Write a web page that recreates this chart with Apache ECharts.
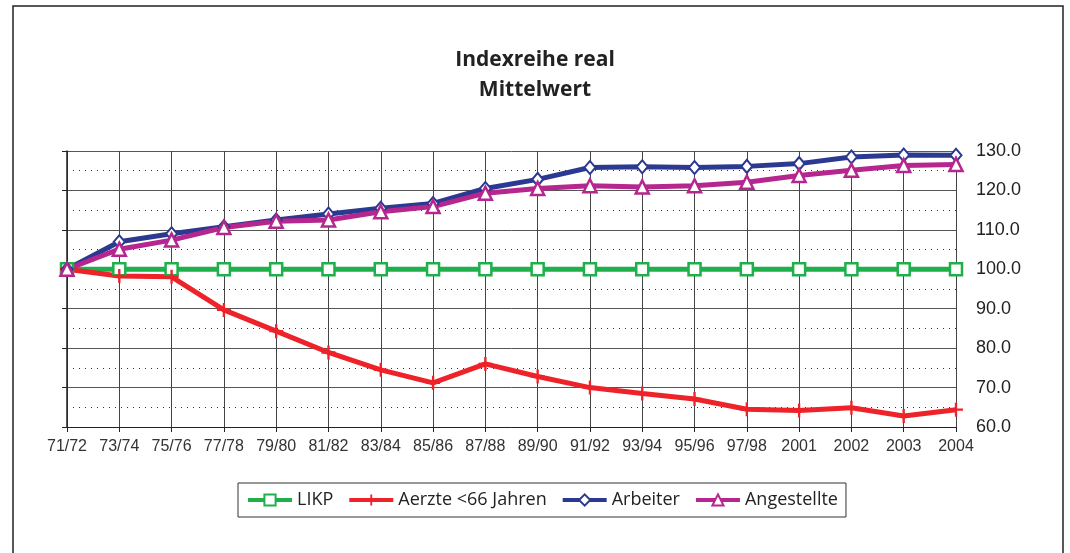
<!DOCTYPE html>
<html>
<head>
<meta charset="utf-8">
<script src="https://cdn.jsdelivr.net/npm/echarts@6/dist/echarts.min.js"></script>
<style>
  html, body { margin: 0; padding: 0; background: #fff; }
  #chart { width: 1070px; height: 553px; }
</style>
</head>
<body>
<div id="chart"></div>
<script>
// Kategorien (Jahre)
const categories = ['71/72', '73/74', '75/76', '77/78', '79/80', '81/82', '83/84', '85/86', '87/88',
  '89/90', '91/92', '93/94', '95/96', '97/98', '2001', '2002', '2003', '2004']

// Werte
const likp = [100, 100, 100, 100, 100, 100, 100, 100, 100, 100, 100, 100, 100, 100, 100, 100, 100, 100]
const aerzte = [100, 98.3, 98.1, 89.7, 84.3, 78.9, 74.5, 71.2, 76.0, 72.8, 70.0, 68.5, 67.1, 64.5, 64.2, 64.9, 62.8, 64.4]
const arbeiter = [100, 107.0, 109.0, 110.8, 112.5, 114.0, 115.5, 116.7, 120.5, 122.8, 125.8, 126.0, 125.8, 126.1, 126.8, 128.5, 129.0, 128.9]
const angestellte = [100, 105.1, 107.4, 110.6, 112.2, 112.5, 114.6, 115.9, 119.3, 120.5, 121.2, 120.9, 121.2, 122.1, 123.8, 125.1, 126.3, 126.6]

// Pluszeichen als Marker
const plusSymbol = 'path://M5,0H7V5H12V7H7V12H5V7H0V5H5Z'

let chart = echarts.init(document.getElementById('chart'))
chart.setOption({
  animation: false,
  backgroundColor: '#fff',
  title: {
    text: 'Indexreihe real\nMittelwert',
    left: 'center',
    top: 40,
    textStyle: {
      fontFamily: 'Open Sans',
      fontWeight: 'bold',
      fontSize: 21,
      lineHeight: 30,
      color: '#222'
    }
  },
  graphic: [
    {
      type: 'polyline',
      shape: { points: [[13, 560], [13, 6], [1063, 6], [1063, 560]] },
      style: { stroke: '#222', lineWidth: 1.5, fill: null }
    }
  ],
  legend: {
    left: 238,
    top: 483,
    padding: [8, 8],
    itemGap: 14,
    itemWidth: 44,
    itemHeight: 14,
    borderColor: '#333',
    borderWidth: 1,
    lineStyle: { width: 4 },
    textStyle: {
      fontFamily: 'Open Sans',
      fontSize: 18,
      color: '#222'
    },
    data: ['LIKP', 'Aerzte <66 Jahren', 'Arbeiter', 'Angestellte']
  },
  grid: {
    left: 67,
    right: 114,
    top: 151,
    bottom: 126
  },
  xAxis: {
    type: 'category',
    boundaryGap: false,
    data: categories,
    axisLine: { lineStyle: { color: '#222', width: 1 } },
    axisTick: { show: true, length: 5, lineStyle: { color: '#222' } },
    axisLabel: {
      fontFamily: 'Liberation Sans',
      fontSize: 16,
      color: '#333',
      margin: 12,
      interval: 0
    },
    splitLine: { show: true, lineStyle: { color: '#444', width: 1 } }
  },
  yAxis: [
    {
      type: 'value',
      position: 'right',
      min: 60,
      max: 130,
      interval: 10,
      axisLine: { show: false },
      axisTick: { show: false },
      axisLabel: {
        fontFamily: 'Liberation Sans',
        fontSize: 18,
        color: '#222',
        margin: 20,
        formatter: (v) => v.toFixed(1)
      },
      splitLine: { show: true, lineStyle: { color: '#555', width: 1 } },
      minorTick: { show: false, splitNumber: 2 },
      minorSplitLine: { show: true, lineStyle: { color: '#333', type: [1, 5], width: 1 } }
    },
    {
      type: 'value',
      position: 'left',
      min: 60,
      max: 130,
      interval: 10,
      axisLine: { show: true, lineStyle: { color: '#222', width: 1.5 } },
      axisTick: { show: true, length: 5, lineStyle: { color: '#222' } },
      axisLabel: { show: false },
      splitLine: { show: false }
    }
  ],
  series: [
    {
      name: 'LIKP',
      type: 'line',
      data: likp,
      symbol: 'rect',
      symbolSize: 12,
      lineStyle: { color: '#1fb04b', width: 5 },
      itemStyle: { color: '#fff', borderColor: '#1fb04b', borderWidth: 2.5 }
    },
    {
      name: 'Aerzte <66 Jahren',
      type: 'line',
      data: aerzte,
      symbol: plusSymbol,
      symbolSize: 14,
      lineStyle: { color: '#ee2229', width: 5 },
      itemStyle: { color: '#ee2229', borderWidth: 0 }
    },
    {
      name: 'Arbeiter',
      type: 'line',
      data: arbeiter,
      symbol: 'diamond',
      symbolSize: [11, 13],
      lineStyle: { color: '#2b3990', width: 5 },
      itemStyle: { color: '#fff', borderColor: '#2b3990', borderWidth: 2 }
    },
    {
      name: 'Angestellte',
      type: 'line',
      data: angestellte,
      symbol: 'triangle',
      symbolSize: 13,
      lineStyle: { color: '#b5268e', width: 5 },
      itemStyle: { color: '#fff', borderColor: '#b5268e', borderWidth: 2.5 }
    }
  ]
})
</script>
</body>
</html>
